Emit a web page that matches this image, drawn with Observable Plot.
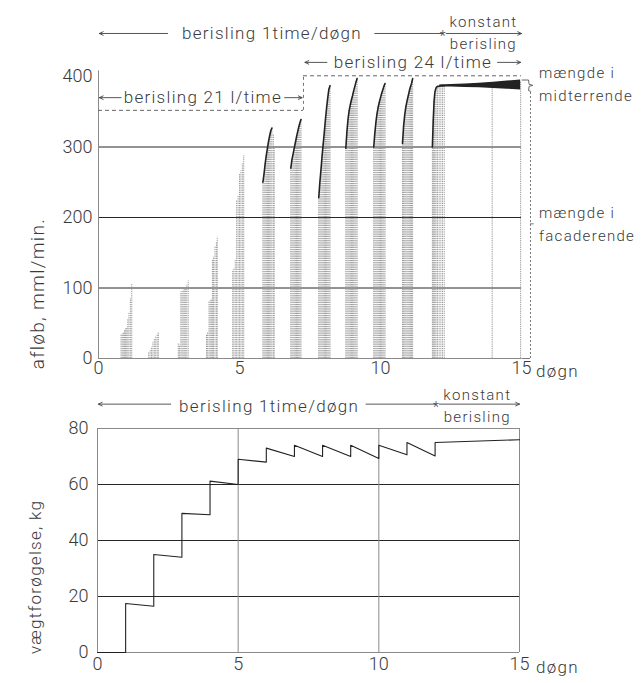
<!DOCTYPE html>
<html><head><meta charset="utf-8">
<script src="https://cdn.jsdelivr.net/npm/d3@7"></script>
<script src="https://cdn.jsdelivr.net/npm/@observablehq/plot@0.6"></script>
<style>
body{margin:0;background:#fff;}
#chart{width:644px;height:683px;overflow:hidden;background:#fff;}
#chart svg{display:block;}
#chart g[aria-label="text"] text{letter-spacing:1.3px;}
</style></head><body><div id="chart"></div>
<script>
// ---------- data ----------
const dayTicks = [0, 5, 10, 15];
const runoffTicks = [0, 100, 200, 300, 400];
const runoffGrid = [100, 200, 300];
const weightTicks = [0, 20, 40, 60, 80];
const weightGrid = [20, 40, 60];

// runoff needles (døgn, mml/min)
const needleTime = [
  0.80,0.84,0.88,0.92,0.96,1.00,1.04,1.08,1.13,1.18,
  1.78,1.83,1.88,1.93,1.98,2.03,2.08,2.12,
  2.83,2.87,2.92,2.96,3.00,3.04,3.08,3.13,3.18,
  3.83,3.87,3.92,3.96,4.00,4.04,4.08,4.13,4.18,4.21,
  4.76,4.80,4.85,4.90,4.95,5.00,5.05,5.10,5.15,
  5.83,5.87,5.91,5.95,5.99,6.03,6.07,6.11,6.15,6.20,6.23,
  6.82,6.86,6.90,6.94,6.98,7.02,7.06,7.10,7.14,7.18,
  7.81,7.85,7.89,7.93,7.97,8.01,8.05,8.09,8.13,8.17,8.21,
  8.77,8.81,8.85,8.89,8.93,8.97,9.01,9.05,9.09,9.13,9.17,
  9.76,9.80,9.84,9.88,9.92,9.96,10.00,10.04,10.08,10.12,10.16,
  10.78,10.82,10.86,10.90,10.94,10.98,11.02,11.06,11.10,11.14,
  11.84,11.87,11.90,11.93,11.97,12.02,12.08,12.14,12.20,12.26,
  13.96,14.97
];
const needleValue = [
  33,35,36,40,42,44,55,64,85,106,
  8,11,16,23,27,30,34,37,
  21,19,94,95,96,98,100,104,110,
  34,36,80,82,84,140,144,158,165,172,
  125,128,139,224,230,262,266,276,288,
  250,262,276,288,298,308,316,323,327,318,300,
  270,282,290,298,306,314,321,328,334,339,
  228,250,268,288,305,322,340,356,370,382,387,
  298,322,340,352,360,367,373,380,386,392,397,
  300,320,336,348,357,364,370,376,381,386,390,
  305,330,346,357,365,372,379,385,390,397,
  300,338,365,378,384,386,386,387,387,387,
  388,392
];
// constant irrigation band
const bandTime = [12.1, 12.5, 13.0, 13.5, 14.0, 14.5, 14.97];
const bandLow  = [385, 385, 384.5, 384, 383, 382, 381];
const bandHigh = [388, 388.5, 389.5, 390.5, 392, 393.5, 395];

// weight increase (døgn, kg)
const weightTime  = [0,1,1,2,2,3,3,4,4,5,5,6,6,7,7,8,8,9,9,10,10,11,11,12,12,15];
const weightValue = [0,0,17.5,16.5,35,34,49.7,49.2,61.2,60,69,68,73,70,74,70,74,70,74,69.3,74,70.6,75,70.2,75,76];

// irrigation schedule annotations
const rateLabels = ["berisling 21 l/time", "berisling 24 l/time"];
const rateStart = [0, 7.27];
const rateEnd = [7.27, 15];
const rateLevel = [352, 401];
const scheduleLabel = "berisling 1time/døgn";
const constantLabel = ["konstant", "berisling"];
const constantStartTop = 12.23;
const constantStartBottom = 12.05;
const yLabelTop = "afløb, mml/min.";
const yLabelBottom = "vægtforøgelse, kg";
const unitLabel = "døgn";
const amountLabels = ["mængde i", "midterrende", "mængde i", "facaderende"];

// ---------- style ----------
const FONT = "Roboto, 'Liberation Sans', sans-serif";
const ink = "#262626";
const lightInk = "#8a8a8a";
const textInk = "#3a3a3a";

const needles = needleTime.map((t, i) => ({t, v: needleValue[i], day: Math.round(t)}));
const isTail = new Set([6.20, 6.23]);
const envelope = needles.filter(d => d.day >= 6 && d.day <= 12 && d.t < 13 && !isTail.has(d.t));
const band = bandTime.map((t, i) => ({t, lo: bandLow[i], hi: bandHigh[i]}));
const weight = weightTime.map((t, i) => ({t, w: weightValue[i]}));

const txt = {fontFamily: FONT, fill: textInk, fontWeight: 300};
const arrowOpts = {stroke: "#444", strokeWidth: 0.9, headLength: 7, headAngle: 50};

// ---------- top chart ----------
const topPlot = Plot.plot({
  width: 644, height: 385,
  marginLeft: 98, marginRight: 123, marginTop: 76, marginBottom: 27,
  x: {domain: [0, 15]},
  y: {domain: [0, 400]},
  style: {fontFamily: FONT, color: textInk, background: "white", overflow: "visible"},
  marks: [
    Plot.ruleY(runoffGrid, {stroke: ink, strokeWidth: 1}),
    Plot.ruleY([0], {stroke: lightInk}),
    Plot.ruleX([0], {y1: 0, y2: 408, stroke: lightInk}),
    Plot.ruleX(needles, {x: "t", y1: 0, y2: "v", stroke: "#9a9a9a", strokeWidth: 1, strokeDasharray: "1.3,0.9"}),
    Plot.areaY(band, {x: "t", y1: "lo", y2: "hi", fill: "#222"}),
    Plot.line(envelope, {x: "t", y: "v", z: "day", stroke: "#222", strokeWidth: 1.6}),
    // dashed rate boundaries
    Plot.ruleY(rateLevel.map((l, i) => ({l, a: rateStart[i], b: rateEnd[i]})),
      {y: "l", x1: "a", x2: "b", stroke: "#666", strokeDasharray: "4,3"}),
    Plot.ruleX([rateEnd[0]], {y1: rateLevel[0], y2: rateLevel[1], stroke: "#777", strokeDasharray: "3,3"}),
    // rate labels
    Plot.text([rateLabels[0]], {x: 3.7, y: 370, text: d => d, fontSize: 17, ...txt}),
    Plot.arrow([{a: 0.8, b: 0.03}, {a: 6.6, b: 7.22}], {x1: "a", x2: "b", y1: 370, y2: 370, ...arrowOpts}),
    Plot.text([rateLabels[1]], {x: 11.15, y: 420, text: d => d, fontSize: 17, ...txt}),
    Plot.arrow([{a: 8.1, b: 7.32}, {a: 14.15, b: 14.97}], {x1: "a", x2: "b", y1: 420, y2: 420, ...arrowOpts}),
    // schedule labels
    Plot.text([scheduleLabel], {x: 6.15, y: 461, text: d => d, fontSize: 17, ...txt}),
    Plot.arrow([{a: 2.45, b: 0.03}], {x1: "a", x2: "b", y1: 461, y2: 461, ...arrowOpts}),
    Plot.ruleY([461], {x1: 9.8, x2: constantStartTop, stroke: "#444", strokeWidth: 0.9}),
    Plot.text(["*"], {x: constantStartTop, y: 461, dy: 3, fontSize: 14, ...txt}),
    Plot.arrow([{a: constantStartTop + 0.1, b: 15}], {x1: "a", x2: "b", y1: 461, y2: 461, ...arrowOpts}),
    Plot.text([constantLabel[0]], {x: 13.65, y: 477, text: d => d, fontSize: 15, ...txt}),
    Plot.text([constantLabel[1]], {x: 13.65, y: 446, text: d => d, fontSize: 15, ...txt}),
    // right bracket
    Plot.line([[15.02, 395], [15.25, 395], [15.27, 389], [15.4, 387.5], [15.27, 386], [15.25, 380], [15.32, 379]], {stroke: "#555", strokeWidth: 0.9}),
    Plot.ruleX([15.32], {y1: 0, y2: 379, stroke: "#777", strokeDasharray: "2,2"}),
    Plot.ruleY([0], {x1: 15.02, x2: 15.32, stroke: "#777"}),
    Plot.ruleY([191], {x1: 15.32, x2: 15.45, stroke: "#777"}),
    Plot.text(amountLabels, {x: 15.62, y: [404, 372, 206, 174], text: d => d, textAnchor: "start", fontSize: 15, ...txt}),
    // y label
    Plot.text([yLabelTop], {x: -2.15, y: 92, text: d => d, rotate: -90, fontSize: 19, ...txt}),
    // axes
    Plot.axisX({ticks: dayTicks, tickSize: 0, tickPadding: 3, fontSize: 18, fontWeight: 300, label: null}),
    Plot.text([unitLabel], {x: 15, y: 0, dx: 36, dy: 13, fontSize: 17, ...txt}),
    Plot.axisY({ticks: runoffTicks, tickSize: 0, tickPadding: 6, fontSize: 18, fontWeight: 300, label: null})
  ]
});

// ---------- bottom chart ----------
const botPlot = Plot.plot({
  width: 644, height: 298,
  marginLeft: 97, marginRight: 125, marginTop: 43, marginBottom: 31,
  x: {domain: [0, 15]},
  y: {domain: [0, 80]},
  style: {fontFamily: FONT, color: textInk, background: "white", overflow: "visible"},
  marks: [
    Plot.ruleY(weightGrid, {stroke: ink, strokeWidth: 1}),
    Plot.ruleY([0, 80], {stroke: lightInk}),
    Plot.ruleX(dayTicks, {stroke: lightInk}),
    Plot.line(weight, {x: "t", y: "w", stroke: "#222", strokeWidth: 1.1}),
    Plot.text([scheduleLabel], {x: 6.1, y: 87.8, text: d => d, fontSize: 17, ...txt}),
    Plot.arrow([{a: 2.6, b: 0.03}], {x1: "a", x2: "b", y1: 88.7, y2: 88.7, ...arrowOpts}),
    Plot.ruleY([88.7], {x1: 9.55, x2: constantStartBottom, stroke: "#444", strokeWidth: 0.9}),
    Plot.text(["*"], {x: constantStartBottom, y: 88.7, dy: 3, fontSize: 14, ...txt}),
    Plot.arrow([{a: constantStartBottom + 0.1, b: 15}], {x1: "a", x2: "b", y1: 88.7, y2: 88.7, ...arrowOpts}),
    Plot.text([constantLabel[0]], {x: 13.5, y: 92, text: d => d, fontSize: 15, ...txt}),
    Plot.text([constantLabel[1]], {x: 13.5, y: 84, text: d => d, fontSize: 15, ...txt}),
    Plot.text([yLabelBottom], {x: -2.2, y: 27, text: d => d, rotate: -90, fontSize: 17, ...txt}),
    Plot.axisX({ticks: dayTicks, tickSize: 0, tickPadding: 5, fontSize: 18, fontWeight: 300, label: null}),
    Plot.text([unitLabel], {x: 15, y: 0, dx: 38, dy: 15, fontSize: 17, ...txt}),
    Plot.axisY({ticks: weightTicks, tickSize: 0, tickPadding: 9, fontSize: 18, fontWeight: 300, label: null})
  ]
});

const root = document.getElementById("chart");
root.appendChild(topPlot);
root.appendChild(botPlot);
</script></body></html>
